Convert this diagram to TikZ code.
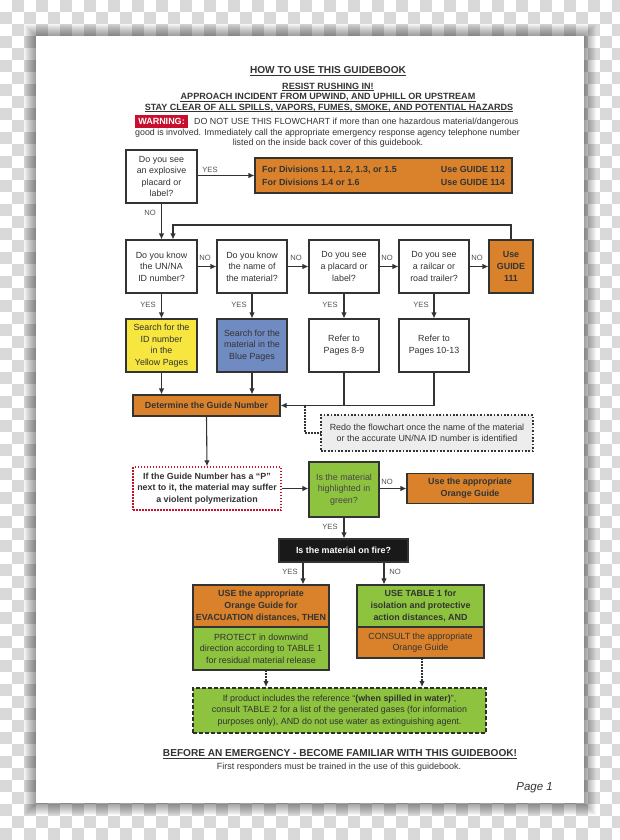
\documentclass[tikz,border=0pt]{standalone}
\usepackage{fontspec}
\setmainfont{Liberation Sans}
\usetikzlibrary{arrows.meta}
\definecolor{ink}{HTML}{333333}
\definecolor{org}{HTML}{D9822B}
\definecolor{yel}{HTML}{F6E63F}
\definecolor{blu}{HTML}{6F8BC2}
\definecolor{grn}{HTML}{8DC33F}
\definecolor{wred}{HTML}{C8102E}
\definecolor{chk}{HTML}{D9D9D9}
\definecolor{gbox}{HTML}{EDEDED}
\newcommand{\fsbox}{\fontsize{8.9}{11.6}\selectfont}
\tikzset{
  box/.style={draw=ink, line width=1.1, fill=white, align=center, inner sep=0, text=ink, font=\fsbox},
  boldbox/.style={box, font=\fsbox\bfseries},
  arr/.style={draw=ink, line width=1.1, -{Latex[length=6,width=5.5]}},
  lnk/.style={draw=ink, line width=1.1},
  uline/.style={draw=ink, line width=0.75},
  dotarr/.style={draw=ink, line width=1.5, dash pattern=on 1.5 off 1.5, -{Latex[length=6,width=5.5]}},
  dotlnk/.style={draw=ink, line width=1.5, dash pattern=on 1.5 off 1.5},
  lab/.style={text=ink!85, font=\fontsize{7.6}{9}\selectfont, inner sep=0},
  head/.style={text=ink, font=\fontsize{9.05}{10}\selectfont\bfseries, inner sep=0},
  hd/.style={head, anchor=base, text depth=0pt},
  warnt/.style={text=ink, font=\fontsize{8.85}{10}\selectfont, inner sep=0},
}
\begin{document}
\begin{tikzpicture}[x=1pt,y=-1pt]
\useasboundingbox (0,0) rectangle (620,840);
% checkerboard background
\fill[white] (0,0) rectangle (620,840);
\foreach \j in {0,...,69}{
  \pgfmathsetmacro\off{12*mod(\j+1,2)}
  \foreach \i in {0,...,25}{\fill[chk] (\off+24*\i,12*\j) rectangle ++(12,12);}
}
% page shadow
\foreach \k in {1,...,12}{\fill[black,opacity=0.035] (36-\k,36-\k) rectangle (584+\k,803+\k);}
\fill[white] (36,36) rectangle (584,803);

% headings
\node[hd, font=\fontsize{10.1}{11}\selectfont\bfseries] (t1) at (328,73.8) {HOW TO USE THIS GUIDEBOOK};
\node[hd] (t2) at (328,89.3) {RESIST RUSHING IN!};
\node[hd] (t3) at (328,99.8) {APPROACH INCIDENT FROM UPWIND, AND UPHILL OR UPSTREAM};
\node[hd] (t4) at (329,110.3) {STAY CLEAR OF ALL SPILLS, VAPORS, FUMES, SMOKE, AND POTENTIAL HAZARDS};
\foreach \n in {t1,t2,t3,t4}{\draw[uline] ([yshift=-1.3]\n.south west) -- ([yshift=-1.3]\n.south east);}
\node[fill=wred, text=white, font=\fontsize{9}{10}\selectfont\bfseries, inner sep=0, minimum width=53, minimum height=13] (warn) at (161.5,121.5) {WARNING:};
\node[warnt, anchor=west] (w1) at (194,122) {DO NOT USE THIS FLOWCHART if more than one hazardous material/dangerous};
\node[warnt] (w2) at (327.5,132.8) {good is involved. Immediately call the appropriate emergency response agency telephone number};
\node[warnt] (w3) at (328,143.3) {listed on the inside back cover of this guidebook.};

% first question
\node[box, minimum width=71, minimum height=53] (q0) at (161.5,176.5) {Do you see\\an explosive\\placard or\\label?};
\node[box, fill=org, minimum width=257, minimum height=35] (g112) at (383.5,175.5) {};
\node[head, font=\fsbox\bfseries, anchor=west] (d1) at (262,169.5) {For Divisions 1.1, 1.2, 1.3, or 1.5};
\node[head, font=\fsbox\bfseries, anchor=west] (d2) at (262,182.5) {For Divisions 1.4 or 1.6};
\node[head, font=\fsbox\bfseries, anchor=east] (u1) at (505,169.5) {Use GUIDE 112};
\node[head, font=\fsbox\bfseries, anchor=east] (u2) at (505,182.5) {Use GUIDE 114};
\draw[arr] (q0.east |- g112.west) -- (g112.west);
\node[lab] (ly0) at (210,170) {YES};
\node[lab] (ln0) at (150,213) {NO};

% row 2
\node[box, minimum width=71, minimum height=53] (qa) at (161.5,266.5) {Do you know\\the UN/NA\\ID number?};
\node[box, minimum width=70, minimum height=53] (qb) at (252,266.5) {Do you know\\the name of\\the material?};
\node[box, minimum width=70, minimum height=53] (qc) at (344,266.5) {Do you see\\a placard or\\label?};
\node[box, minimum width=70, minimum height=53] (qd) at (434,266.5) {Do you see\\a railcar or\\road trailer?};
\node[boldbox, fill=org, minimum width=44, minimum height=53] (qe) at (511,266.5) {Use\\GUIDE\\111};
\draw[arr] (q0.south) -- (qa.north);
\coordinate (lp1) at (511,225);
\coordinate (lp2) at (173,225);
\draw[arr] (qe.north) -- (lp1) -- (lp2) -- ([xshift=11.5]qa.north);
\draw[arr] (qa) -- (qb);
\draw[arr] (qb) -- (qc);
\draw[arr] (qc) -- (qd);
\draw[arr] (qd) -- (qe);
\node[lab] (n1) at (205,258) {NO};
\node[lab] (n2) at (296,258) {NO};
\node[lab] (n3) at (387,258) {NO};
\node[lab] (n4) at (477,258) {NO};

% row 3
\node[box, fill=yel, minimum width=71, minimum height=53] (ra) at (161.5,345.5) {Search for the\\ID number\\in the\\Yellow Pages};
\node[box, fill=blu, minimum width=70, minimum height=53] (rb) at (252,345.5) {Search for the\\material in the\\Blue Pages};
\node[box, minimum width=70, minimum height=53] (rc) at (344,345.5) {Refer to\\Pages 8-9};
\node[box, minimum width=70, minimum height=53] (rd) at (434,345.5) {Refer to\\Pages 10-13};
\draw[arr] (qa) -- (ra);
\draw[arr] (qb) -- (rb);
\draw[arr] (qc) -- (rc);
\draw[arr] (qd) -- (rd);
\node[lab] (y1) at (148,305) {YES};
\node[lab] (y2) at (239,305) {YES};
\node[lab] (y3) at (330,305) {YES};
\node[lab] (y4) at (421,305) {YES};

% determine guide number
\node[boldbox, fill=org, minimum width=147, minimum height=21] (det) at (206.5,405.5) {Determine the Guide Number};
\draw[arr] (ra.south) -- (ra.south |- det.north);
\draw[arr] (rb.south) -- (rb.south |- det.north);
\draw[arr] (rd.south) -- (rd.south |- det.east) -- (det.east);
\draw[lnk] (rc.south) -- (rc.south |- det.east);
\node[box, fill=gbox, draw=ink, line width=1.7, dash pattern=on 1.7 off 1.7, minimum width=212, minimum height=36] (redo) at (427,433) {Redo the flowchart once the name of the material\\or the accurate UN/NA ID number is identified};
\coordinate (dc1) at (305,406);
\coordinate (dc2) at (305,433);
\draw[dotlnk] (dc1) -- (dc2) -- (redo.west);

% polymerization and green question
\node[boldbox, draw=wred, line width=1.4, dash pattern=on 1.5 off 1.5, minimum width=148, minimum height=43] (poly) at (207,488.5) {If the Guide Number has a “P”\\next to it, the material may suffer\\a violent polymerization};
\draw[arr] (det.south) -- (poly.north);
\node[box, fill=grn, minimum width=70, minimum height=55, text=ink!90] (qg) at (344,489.5) {Is the material\\highlighted in\\green?};
\draw[arr] (poly.east) -- (qg.west |- poly.east);
\node[boldbox, fill=org, minimum width=126, minimum height=30] (og) at (470,488.5) {Use the appropriate\\Orange Guide};
\draw[arr] (qg.east |- og.west) -- (og.west);
\node[lab] (n5) at (387,482) {NO};

% fire question
\node[boldbox, fill=black!90, text=white, minimum width=129, minimum height=23] (fire) at (343.5,550.5) {Is the material on fire?};
\draw[arr] (qg.south) -- (qg.south |- fire.north);
\node[lab] (y5) at (330,527) {YES};

% compound boxes
\node[boldbox, fill=org, minimum width=136, minimum height=42] (lt) at (261,606) {USE the appropriate\\Orange Guide for\\EVACUATION distances, THEN};
\node[box, fill=grn, minimum width=136, minimum height=43] (lb) at (261,648.5) {PROTECT in downwind\\direction according to TABLE 1\\for residual material release};
\node[boldbox, fill=grn, minimum width=127, minimum height=42] (rt) at (420.5,606) {USE TABLE 1 for\\isolation and protective\\action distances, AND};
\node[box, fill=org, minimum width=127, minimum height=31] (rbx) at (420.5,642.5) {CONSULT the appropriate\\Orange Guide};
\coordinate (fy) at (303,562);
\coordinate (fn) at (384,562);
\draw[arr] (fy) -- (fy |- lt.north);
\draw[arr] (fn) -- (fn |- rt.north);
\node[lab] (y6) at (290,572) {YES};
\node[lab] (n6) at (395,572) {NO};

% water box
\node[box, fill=grn, draw=ink!90!black, line width=1.9, dash pattern=on 4 off 2, minimum width=293, minimum height=45] (water) at (339.5,710.5) {If product includes the reference “\textbf{(when spilled in water)}”,\\consult TABLE 2 for a list of the generated gases (for information\\purposes only), AND do not use water as extinguishing agent.};
\coordinate (wl) at (266,670);
\coordinate (wr) at (422,658);
\draw[dotarr] (wl) -- (wl |- water.north);
\draw[dotarr] (wr) -- (wr |- water.north);

% footer
\node[hd, font=\fontsize{10.1}{11}\selectfont\bfseries] (f1) at (340,756.6) {BEFORE AN EMERGENCY - BECOME FAMILIAR WITH THIS GUIDEBOOK!};
\draw[uline] ([yshift=-1.4]f1.south west) -- ([yshift=-1.4]f1.south east);
\node[warnt, font=\fontsize{9}{10}\selectfont] (f2) at (339,767.5) {First responders must be trained in the use of this guidebook.};
\node[warnt, font=\fontsize{11.5}{13}\selectfont\itshape, anchor=east] (pg) at (553,788) {Page 1};
\end{tikzpicture}
\end{document}
